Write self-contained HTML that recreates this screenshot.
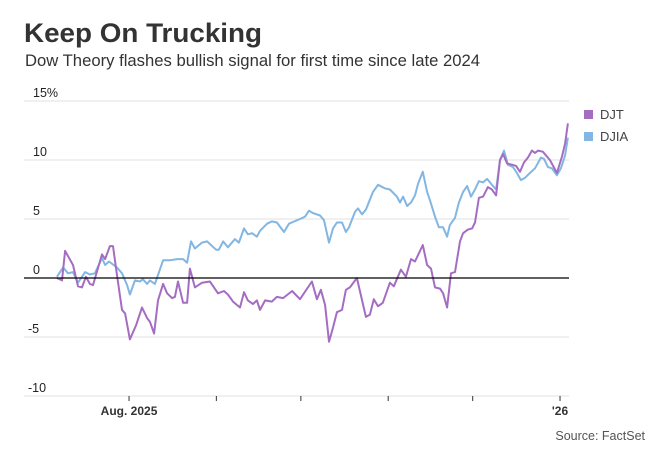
<!DOCTYPE html>
<html><head><meta charset="utf-8"><style>
body{margin:0;background:#fff;font-family:"Liberation Sans",sans-serif;}
svg{display:block}
</style></head><body>
<svg id="chart" width="667" height="457" viewBox="0 0 667 457" xmlns="http://www.w3.org/2000/svg">
<text x="24" y="42" font-size="27" font-weight="bold" fill="#333" textLength="238" lengthAdjust="spacingAndGlyphs">Keep On Trucking</text>
<text x="25" y="66" font-size="16.5" fill="#333" textLength="455" lengthAdjust="spacingAndGlyphs">Dow Theory flashes bullish signal for first time since late 2024</text>
<g id="grid"></g>
<g id="series"></g>
<g>
<rect x="584" y="110" width="9" height="9" fill="#a56dc2"/>
<text x="600" y="119" font-size="13" fill="#444">DJT</text>
<rect x="584" y="132" width="9" height="9" fill="#82b6e3"/>
<text x="600" y="141" font-size="13" fill="#444">DJIA</text>
</g>
<text x="645" y="440" font-size="12.5" fill="#555" text-anchor="end">Source: FactSet</text>
</svg>
<script>
const yTicks=[15,10,5,0,-5,-10];
const yTickLabels=["15%","10","5","0","-5","-10"];
const xTickDays=[31,62,92,123,153,184];
const xTickLabels=["Aug. 2025","","","","","'26"];
const djtDays=[5.4,7.2,8.3,11.1,12.9,14.3,15.7,17.1,18.2,21.4,22.5,24.2,25.3,26.7,28.5,29.6,31.3,33.5,35.6,37.4,38.4,39.9,41.3,43.1,44.5,46.3,47.3,48.4,50.2,51.6,52.6,54.4,56.9,59.7,62.6,64.7,66.1,67.9,70.4,71.8,73.2,75.0,76.4,77.5,79.3,81.7,83.5,85.7,88.9,91.7,95.9,97.7,99.1,100.6,102.0,103.4,104.8,106.6,108.0,109.4,111.9,115.1,116.5,117.9,119.4,121.1,123.6,125.0,127.5,129.3,131.1,132.5,135.3,136.8,138.2,139.6,141.4,142.5,143.9,145.3,146.7,148.5,149.6,151.3,152.8,153.8,155.2,156.7,158.4,159.8,161.3,162.7,163.8,165.2,167.0,168.4,169.8,171.2,172.6,174.0,175.1,176.2,177.9,180.4,182.9,184.7,185.8,186.8];
const djtVals=[0.0,-0.2,2.3,1.1,-0.7,-0.8,0.1,-0.5,-0.6,2.0,1.6,2.7,2.7,0.3,-2.7,-3.0,-5.2,-4.0,-2.5,-3.4,-3.7,-4.7,-1.9,-0.5,-1.3,-1.7,-1.6,-0.3,-2.1,-2.1,0.8,-0.8,-0.4,-0.3,-1.3,-1.1,-1.4,-2.0,-2.5,-1.2,-1.9,-2.2,-1.9,-2.7,-1.9,-2.0,-1.6,-1.7,-1.1,-1.8,-0.3,-1.8,-1.0,-2.3,-5.4,-4.2,-2.9,-2.7,-1.0,-0.8,0.0,-3.3,-3.1,-1.8,-2.4,-2.1,-0.4,-0.7,0.7,0.1,1.6,1.4,2.8,1.1,0.8,-0.8,-0.9,-1.3,-2.5,0.4,0.5,3.1,3.8,4.1,4.2,4.7,6.8,6.9,7.7,7.5,7.0,10.0,10.5,9.7,9.6,9.5,9.0,9.8,10.2,10.8,10.6,10.8,10.7,10.0,8.9,10.3,11.4,13.1];
const djiaDays=[5.4,7.6,9.3,11.1,12.9,15.4,17.1,18.9,21.4,22.5,23.9,26.7,28.5,30.3,31.3,33.1,34.9,35.9,37.4,38.4,40.2,43.1,45.5,48.0,50.2,51.6,53.0,54.4,56.9,58.7,60.1,61.9,62.9,64.4,66.1,68.6,70.0,71.8,73.2,74.7,76.4,77.5,80.0,81.7,83.5,86.0,87.8,91.7,93.5,94.9,96.3,98.8,100.2,102.0,103.4,104.8,106.6,108.0,109.1,111.2,112.3,113.7,115.1,117.6,119.4,121.8,123.6,126.1,127.2,128.3,129.7,131.1,132.5,133.6,135.3,136.8,137.8,139.6,141.0,142.5,143.9,144.9,146.7,148.1,149.6,151.0,152.4,153.8,155.2,156.7,158.1,159.8,161.3,162.7,164.1,165.5,167.3,168.7,170.1,171.6,173.3,175.1,177.2,178.3,179.7,181.1,182.9,184.3,185.8,186.8];
const djiaVals=[0.1,0.9,0.4,0.5,-0.4,0.5,0.3,0.4,1.7,1.1,1.4,0.9,0.4,-0.6,-1.4,-0.2,-0.3,-0.1,-0.5,-0.2,-0.5,1.5,1.5,1.6,1.6,1.3,3.1,2.5,3.0,3.1,2.8,2.4,2.4,3.1,2.6,3.3,3.0,4.2,3.7,3.8,3.5,4.0,4.6,4.8,4.7,3.9,4.6,5.0,5.2,5.7,5.5,5.3,4.9,3.0,4.2,4.7,4.7,3.9,4.3,5.6,5.9,5.4,5.8,7.3,7.9,7.6,7.5,6.9,6.4,6.9,6.1,6.4,7.0,8.0,9.0,7.3,6.6,5.2,4.3,4.3,3.5,4.5,5.1,6.4,7.3,7.8,6.9,7.5,8.2,8.1,8.4,7.9,7.5,10.0,10.8,9.6,9.4,8.9,8.3,8.5,8.9,9.3,10.2,10.1,9.4,9.3,8.7,9.3,10.4,11.9];

const NS="http://www.w3.org/2000/svg";
const plotL=24,plotR=569,y0px=278,unit=11.8;
const xScale=d=>41.7+d*2.817;
const yScale=v=>y0px-v*unit;
const grid=document.getElementById('grid');
const series=document.getElementById('series');
function mk(tag,attrs,parent){const e=document.createElementNS(NS,tag);for(const k in attrs)e.setAttribute(k,attrs[k]);parent.appendChild(e);return e;}
yTicks.forEach((t,i)=>{
  const y=yScale(t);
  if(t!==0){
    const l=mk('line',{x1:plotL,x2:plotR,y1:y,y2:y,stroke:'#e0e0e0','stroke-width':1},grid);
    
    
  }
  const tx=mk('text',{x:t<0?28:33,y:y-4,'font-size':12.5,fill:'#222'},grid);
  
  
  tx.textContent=yTickLabels[i];
});
xTickDays.forEach((d,i)=>{
  const x=xScale(d);
  const tk=mk('line',{x1:x,x2:x,y1:yScale(-10),y2:yScale(-10)+5,stroke:'#333','stroke-width':1},grid);
  
  
  if(xTickLabels[i]){
    const tx=mk('text',{x:x,y:yScale(-10)+19,'font-size':12,'font-weight':'bold',fill:'#333','text-anchor':'middle'},grid);
    
    
    tx.textContent=xTickLabels[i];
  }
});
function line(days,vals,color,name){
  const d=days.map((dd,i)=>(i?'L':'M')+xScale(dd).toFixed(1)+','+yScale(vals[i]).toFixed(1)).join('');
  const p=mk('path',{d:d,fill:'none',stroke:color,'stroke-width':2,'stroke-linejoin':'round'},series);
  
  
}
line(djiaDays,djiaVals,'#82b6e3','djia-line');
line(djtDays,djtVals,'#a56dc2','djt-line');
const z=mk('line',{x1:plotL,x2:plotR,y1:y0px,y2:y0px,stroke:'#000','stroke-width':1.2},series);


</script>
</body></html>
